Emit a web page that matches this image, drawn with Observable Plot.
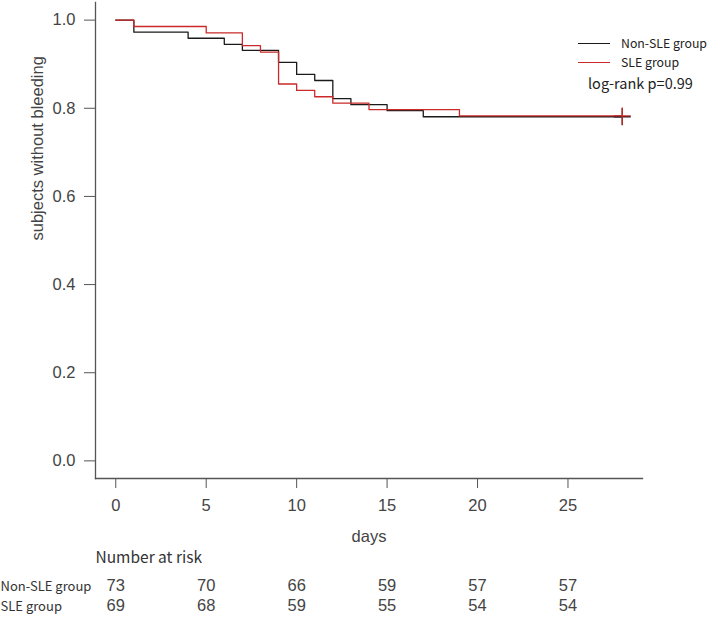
<!DOCTYPE html>
<html>
<head>
<meta charset="utf-8">
<script src="https://cdn.jsdelivr.net/npm/d3@7"></script>
<script src="https://cdn.jsdelivr.net/npm/@observablehq/plot@0.6"></script>
<style>
  html, body { margin: 0; padding: 0; background: #fff; }
  #wrap { position: relative; width: 709px; height: 621px; overflow: hidden; }
  .leg { position: absolute; font-family: "Noto Sans CJK JP", "Noto Sans", sans-serif; color: #222; white-space: nowrap; }
  .legline { position: absolute; height: 0; border-top: 1.3px solid; }
</style>
</head>
<body>
<div id="wrap"></div>
<script>
// Kaplan-Meier estimates
const groups = ["Non-SLE group", "SLE group"];
const nonSleTimes = [0, 1, 4, 6, 7, 9, 10, 11, 12, 13, 15, 17, 28];
const nonSleSurv  = [1, 0.9726, 0.9589, 0.9452, 0.9315, 0.9041, 0.8767, 0.8630, 0.8219, 0.8082, 0.7945, 0.7808, 0.7808];
const sleTimes = [0, 1, 5, 7, 8, 9, 10, 11, 12, 14, 19, 28];
const sleSurv  = [1, 0.9855, 0.9710, 0.9420, 0.9275, 0.8551, 0.8406, 0.8261, 0.8116, 0.7971, 0.7826, 0.7826];
const censorTime = 28;

// Number at risk table
const riskTimes = [0, 5, 10, 15, 20, 25];
const riskNonSle = [73, 70, 66, 59, 57, 57];
const riskSle = [69, 68, 59, 55, 54, 54];

const xTicks = [0, 5, 10, 15, 20, 25];
const yTicks = [0, 0.2, 0.4, 0.6, 0.8, 1.0];
const colors = ["#1a1a1a", "#cc2a2a"];

const nonSle = nonSleTimes.map((t, i) => ({time: t, surv: nonSleSurv[i], group: groups[0]}));
const sle = sleTimes.map((t, i) => ({time: t, surv: sleSurv[i], group: groups[1]}));
const censors = [
  {time: censorTime, surv: nonSleSurv[nonSleSurv.length - 1], group: groups[0]},
  {time: censorTime, surv: sleSurv[sleSurv.length - 1], group: groups[1]}
];
const riskRows = [
  ...riskTimes.map((t, i) => ({time: t, n: riskNonSle[i], row: 0})),
  ...riskTimes.map((t, i) => ({time: t, n: riskSle[i], row: 1}))
];

const axisFont = "Liberation Sans, Arial, sans-serif";
const cjkFont = "Noto Sans CJK JP, Noto Sans, sans-serif";
const narrowFont = "Liberation Sans Narrow, Arial Narrow, Liberation Sans, sans-serif";

const chart = Plot.plot({
  width: 709,
  height: 621,
  marginLeft: 95,
  marginRight: 67,
  marginTop: 2,
  marginBottom: 143,
  style: {fontFamily: axisFont, background: "#fff", overflow: "visible"},
  x: {domain: [-1.12, 29.12], label: null},
  y: {domain: [-0.04, 1.04], label: null},
  color: {domain: groups, range: colors},
  marks: [
    Plot.axisX({ticks: xTicks, tickSize: 10, tickPadding: 11, fontSize: 16.5, stroke: "#555", fill: "#444", label: null}),
    Plot.axisY({ticks: yTicks, tickFormat: d3.format(".1f"), tickSize: 11, tickPadding: 9, fontSize: 16.5, stroke: "#555", fill: "#444", label: null}),
    Plot.frame({anchor: "left", stroke: "#555", strokeWidth: 1.3}),
    Plot.frame({anchor: "bottom", stroke: "#555", strokeWidth: 1.3}),
    Plot.line(nonSle, {x: "time", y: "surv", stroke: colors[0], strokeWidth: 1.3, curve: "step-after"}),
    Plot.line(sle, {x: "time", y: "surv", stroke: colors[1], strokeWidth: 1.3, curve: "step-after"}),
    Plot.dot(censors, {x: "time", y: "surv", stroke: "group", symbol: "plus", r: 5.5, strokeWidth: 1.3}),
    Plot.text(["days"], {frameAnchor: "bottom", dy: 63, fontSize: 16.5, fill: "#444"}),
    Plot.text(["subjects without bleeding"], {frameAnchor: "left", rotate: -90, dx: -58, fontSize: 16.5, fill: "#444"}),
    Plot.text(["Number at risk"], {frameAnchor: "bottom-left", textAnchor: "start", dy: 84, fontSize: 15.5, fontFamily: cjkFont, fill: "#333"}),
    Plot.text([groups[0]], {frameAnchor: "bottom-left", textAnchor: "start", dx: -95, dy: 112, fontSize: 13, fontFamily: cjkFont, fill: "#333"}),
    Plot.text([groups[1]], {frameAnchor: "bottom-left", textAnchor: "start", dx: -95, dy: 132, fontSize: 13, fontFamily: cjkFont, fill: "#333"}),
    Plot.text(riskRows.filter(d => d.row === 0), {x: "time", text: "n", frameAnchor: "bottom", dy: 112, fontSize: 16.5, fontFamily: narrowFont, fill: "#444"}),
    Plot.text(riskRows.filter(d => d.row === 1), {x: "time", text: "n", frameAnchor: "bottom", dy: 132, fontSize: 16.5, fontFamily: narrowFont, fill: "#444"})
  ]
});

const wrap = document.getElementById("wrap");
wrap.appendChild(chart);

// Legend overlay
function legendItem(label, color, top) {
  const line = document.createElement("div");
  line.className = "legline";
  line.style.left = "578px"; line.style.width = "32px"; line.style.top = top + "px";
  line.style.borderTopColor = color;
  wrap.appendChild(line);
  const txt = document.createElement("div");
  txt.className = "leg";
  txt.style.left = "621px"; txt.style.top = (top - 10) + "px";
  txt.style.fontSize = "12.3px"; txt.style.lineHeight = "20px";
  txt.textContent = label;
  wrap.appendChild(txt);
}
legendItem(groups[0], colors[0], 43);
legendItem(groups[1], colors[1], 62);
const p = document.createElement("div");
p.className = "leg";
p.style.left = "588px"; p.style.top = "72px"; p.style.fontSize = "14.5px"; p.style.lineHeight = "22px";
p.textContent = "log-rank p=0.99";
wrap.appendChild(p);
</script>
</body>
</html>
